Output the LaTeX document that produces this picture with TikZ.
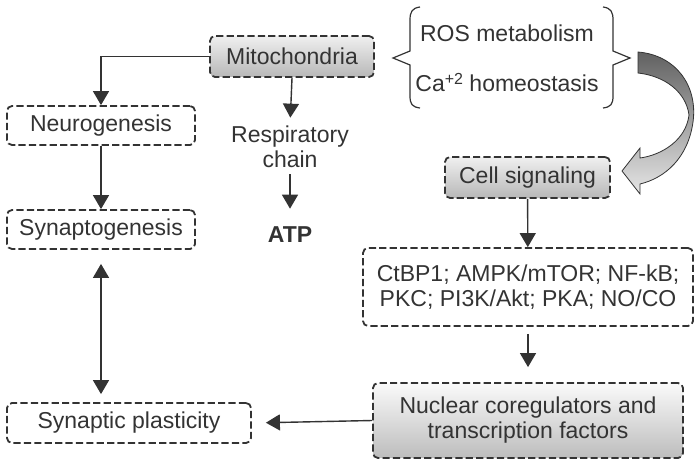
\documentclass[tikz,border=0pt]{standalone}
\usepackage{fontspec}
\setmainfont{Liberation Sans}
\usetikzlibrary{arrows.meta}
\definecolor{ink}{HTML}{333333}
\tikzset{
  box/.style={draw=ink, line width=0.9pt, dash pattern=on 3.6pt off 1.6pt, rounded corners=2.5pt,
    inner sep=0pt, text=ink, align=center},
  shadebox/.style={box, top color=black!6, bottom color=black!28},
  link/.style={draw=ink, line width=0.7pt, -{Triangle[width=8pt,length=7pt]}},
  label/.style={text=ink, align=center, inner sep=0pt},
}
\begin{document}
\begin{tikzpicture}[x=0.5pt,y=-0.5pt,font=\fontsize{11.5}{12.5}\selectfont]
\useasboundingbox (0,0) rectangle (699,460);
\node[shadebox, minimum width=82pt, minimum height=20.5pt] (mito) at (292,56.5) {Mitochondria};
\node[box, minimum width=94pt, minimum height=19.5pt] (neuro) at (101,125.5) {Neurogenesis};
\node[box, minimum width=94pt, minimum height=19.5pt] (synapto) at (101,229.5) {Synaptogenesis};
\node[box, minimum width=122pt, minimum height=20pt] (plast) at (129,423) {Synaptic plasticity};
\node[label] (resp) at (290,147) {Respiratory\\chain};
\node[label, font=\fontsize{11.5}{12.5}\selectfont\bfseries] (atp) at (290,235) {ATP};
\node[label] (ros) at (507,33) {ROS metabolism};
\node[label] (ca) at (507,83) {Ca{\fontsize{8}{8}\selectfont\raisebox{3.5pt}{+2}} homeostasis};
\node[shadebox, minimum width=82.5pt, minimum height=20.5pt] (cellsig) at (527.5,177.5) {Cell signaling};
\node[box, minimum width=165pt, minimum height=39pt] (kin) at (528,287) {CtBP1; AMPK/mTOR; NF-kB;\\PKC; PI3K/Akt; PKA; NO/CO};
\node[box, top color=black!2, bottom color=black!26, minimum width=155pt, minimum height=37.5pt] (nuclear) at (528,420.5) {Nuclear coregulators and\\transcription factors};
\draw[ink, line width=0.6pt] (420,7) .. controls (412,8) and (410,12) .. (410,20) -- (410,51) -- (393,58) -- (410,65) -- (410,96) .. controls (410,104) and (412,107) .. (420,108);
\draw[ink, line width=0.6pt] (603,7) .. controls (611,8) and (613,12) .. (613,20) -- (613,51) -- (630,58) -- (613,65) -- (613,96) .. controls (613,104) and (611,107) .. (603,108);
\draw[draw=ink, line width=0.4pt, top color=black!62, bottom color=black!10]
  (638,52) .. controls (675,55) and (698,85) .. (693,122) .. controls (688,158) and (665,178) .. (640,184)
  -- (640,194) -- (622,171) -- (640,148) -- (640,158)
  .. controls (662,155) and (686,140) .. (689,115) .. controls (686,92) and (665,76) .. (638,73) -- cycle;
\draw[link] (mito.west) -| (neuro.north);
\draw[link, shorten >=4pt] (mito.south) -- (resp.north);
\draw[link, shorten <=3pt, shorten >=9pt] (resp.south) -- (atp);
\draw[link] (neuro) -- (synapto);
\draw[link, <->, >={Triangle[width=8pt,length=7pt]}, shorten <=7pt, shorten >=4pt] (synapto.south) -- (synapto.south |- plast.north);
\draw[link] (cellsig) -- (kin);
\draw[link, shorten <=3.5pt, shorten >=7.5pt] (kin) -- (nuclear);
\draw[link, shorten >=7pt] (nuclear.west) -- (plast.east);
\end{tikzpicture}
\end{document}
